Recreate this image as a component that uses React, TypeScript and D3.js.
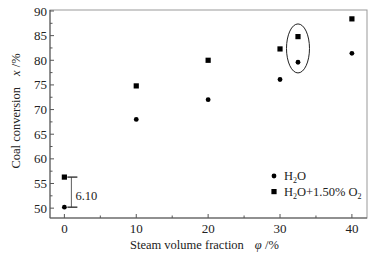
import React from "react";
import * as d3 from "d3";

const xH2O = [0, 10, 20, 30, 32.5, 40];
const yH2O = [50.2, 68.0, 72.0, 76.1, 79.6, 81.4];
const xO2 = [0, 10, 20, 30, 32.5, 40];
const yO2 = [56.3, 74.8, 80.0, 82.3, 84.8, 88.4];
const xTicks = [0, 10, 20, 30, 40];
const xMinor = [5, 15, 25, 35];
const yTicks = [50, 55, 60, 65, 70, 75, 80, 85, 90];
const yMinor = [52.5, 57.5, 62.5, 67.5, 72.5, 77.5, 82.5, 87.5];

const W = 374, H = 258;
const L = 50, R = 367, T = 10, B = 218;
const font = "'Liberation Serif', 'Times New Roman', serif";

export default function App() {
  const x = d3.scaleLinear().domain([-2, 42.1]).range([L, R]);
  const y = d3.scaleLinear().domain([48, 90.2]).range([B, T]);
  const ax = "#555";
  return (
    <svg width={W} height={H} style={{ position: "absolute", left: 0, top: 0, background: "#fff" }}>
      <rect x={L} y={T} width={R - L} height={B - T} fill="none" stroke="#999" strokeWidth={1} />
      <line x1={L} x2={L} y1={T} y2={B} stroke={ax} />
      <line x1={L} x2={R} y1={B} y2={B} stroke={ax} />
      {yTicks.map((v) => (
        <g key={"y" + v}>
          <line x1={L} x2={L + 4} y1={y(v)} y2={y(v)} stroke={ax} />
          <text x={L - 3} y={y(v)} dy="0.35em" textAnchor="end" fontFamily={font} fontSize={13} fill="#222">{v}</text>
        </g>
      ))}
      {yMinor.map((v) => (
        <line key={"ym" + v} x1={L} x2={L + 2.5} y1={y(v)} y2={y(v)} stroke={ax} />
      ))}
      {xTicks.map((v) => (
        <g key={"x" + v}>
          <line x1={x(v)} x2={x(v)} y1={B} y2={B - 4} stroke={ax} />
          <text x={x(v)} y={B + 15} textAnchor="middle" fontFamily={font} fontSize={13} fill="#222">{v}</text>
        </g>
      ))}
      {xMinor.map((v) => (
        <line key={"xm" + v} x1={x(v)} x2={x(v)} y1={B} y2={B - 2.5} stroke={ax} />
      ))}
      <text x={130} y={249} fontFamily={font} fontSize={12.5} fill="#222">
        Steam volume fraction
        <tspan dx={11} fontStyle="italic">φ</tspan>
        <tspan> /%</tspan>
      </text>
      <text transform="translate(20,111) rotate(-90)" textAnchor="middle" fontFamily={font} fontSize={12.5} fill="#222">
        Coal conversion
        <tspan dx={11} fontStyle="italic">x</tspan>
        <tspan> /%</tspan>
      </text>
      {xH2O.map((v, i) => (
        <circle key={"c" + i} cx={x(v)} cy={y(yH2O[i])} r={2.4} fill="#000" />
      ))}
      {xO2.map((v, i) => (
        <rect key={"s" + i} x={x(v) - 2.6} y={y(yO2[i]) - 2.6} width={5.2} height={5.2} fill="#000" />
      ))}
      <ellipse cx={x(32.5)} cy={(y(yH2O[4]) + y(yO2[4])) / 2 - 1} rx={11.5} ry={24.5} fill="none" stroke="#222" strokeWidth={1} />
      <line x1={x(0) + 3} x2={x(0) + 13} y1={y(yO2[0])} y2={y(yO2[0])} stroke="#111" strokeWidth={1.2} />
      <line x1={x(0) + 3} x2={x(0) + 13} y1={y(yH2O[0])} y2={y(yH2O[0])} stroke="#111" strokeWidth={1.2} />
      <line x1={x(0) + 7} x2={x(0) + 7} y1={y(yO2[0])} y2={y(yH2O[0])} stroke="#333" strokeWidth={0.8} />
      <text x={x(0) + 11} y={200} fontFamily={font} fontSize={12.5} fill="#222">6.10</text>
      <circle cx={274} cy={176} r={2.4} fill="#000" />
      <text x={284} y={180} fontFamily={font} fontSize={12.5} fill="#222">
        H<tspan fontSize={8} dy={3}>2</tspan><tspan dy={-3}>O</tspan>
      </text>
      <rect x={271.4} y={189} width={5.2} height={5.2} fill="#000" />
      <text x={284} y={196} fontFamily={font} fontSize={12.5} fill="#222">
        H<tspan fontSize={8} dy={3}>2</tspan><tspan dy={-3}>O+1.50% O</tspan><tspan fontSize={8} dy={3}>2</tspan>
      </text>
    </svg>
  );
}
